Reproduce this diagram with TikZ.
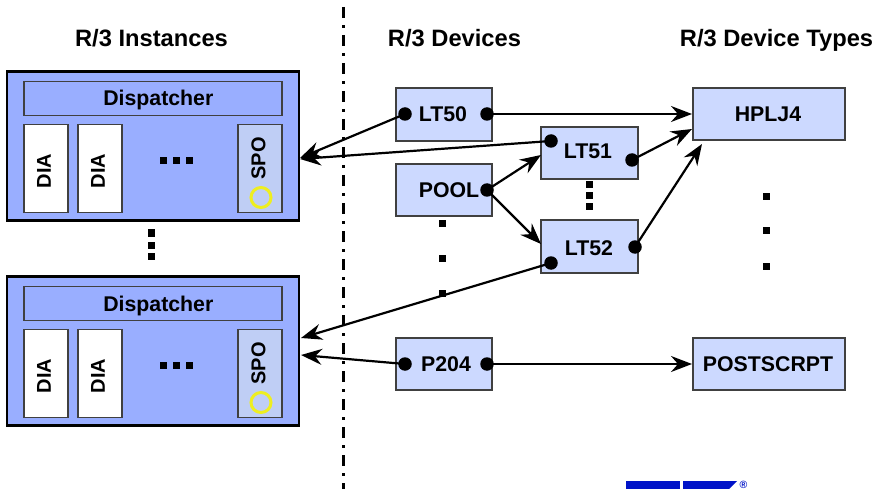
\documentclass[tikz,border=0pt]{standalone}
\usepackage{fontspec}
\setmainfont{Liberation Sans}
\usetikzlibrary{arrows.meta}
\definecolor{frameblue}{HTML}{99AEFF}
\definecolor{devblue}{HTML}{CCD9FF}
\definecolor{spoblue}{HTML}{BFCEF5}
\definecolor{logoblue}{HTML}{0013C8}
\definecolor{ringyellow}{HTML}{EEEE20}
\tikzset{
  x=1pt,y=-1pt,
  heading/.style={font=\fontsize{23.7}{26}\selectfont\bfseries,inner sep=0pt,anchor=base},
  frame/.style={draw=black,line width=2.8pt,fill=frameblue},
  disp/.style={draw=black!75,line width=1.1pt,fill=frameblue},
  dia/.style={draw=black!75,line width=1.1pt,fill=white},
  spobox/.style={draw=black!75,line width=1.1pt,fill=spoblue},
  devbox/.style={draw=black!75,line width=1.1pt,fill=devblue},
  boxlabel/.style={font=\fontsize{21.3}{24}\selectfont\bfseries,inner sep=0pt,anchor=base},
  vlabel/.style={font=\fontsize{20}{24}\selectfont\bfseries,inner sep=0pt,rotate=90},
  pin/.style={circle,fill=black,inner sep=0pt,minimum size=13.5pt},
  link/.style={line width=2.2pt,-{Stealth[length=21pt,width=16pt,inset=7pt]}},
  sq/.style={fill=black,inner sep=0pt,minimum size=7pt},
  ring/.style={draw=ringyellow,line width=3pt,circle,inner sep=0pt,minimum size=20pt},
}
\begin{document}
\begin{tikzpicture}
\useasboundingbox (0,0) rectangle (886,489);
% divider
\draw[line width=3pt,dash pattern=on 11pt off 7pt on 3pt off 7pt] (343.3,7) -- (343.3,489);
% headings
\node[heading] (h1) at (151.5,47) {R/3 Instances};
\node[heading] (h2) at (454.5,47) {R/3 Devices};
\node[heading] (h3) at (776.5,47) {R/3 Device Types};
% instance frames
\foreach \n/\t in {a/71.5,b/276.5}{
  \draw[frame] (7,\t) rectangle (299,\t+149);
  \draw[disp] (24,\t+10) rectangle (282,\t+44);
  \node[boxlabel] (disp\n) at (158.3,\t+34.5) {Dispatcher};
  \draw[dia] (24,\t+53) rectangle (68,\t+141);
  \node[vlabel] (dia\n1) at (44,\t+99.5) {DIA};
  \draw[dia] (78,\t+53) rectangle (122,\t+141);
  \node[vlabel] (dia\n2) at (98,\t+99.5) {DIA};
  \draw[spobox] (238,\t+53) rectangle (282,\t+141);
  \node[vlabel] (spo\n) at (258.5,\t+87) {SPO};
  \node[ring] (ring\n) at (261,\t+126) {};
  \foreach \i/\x in {1/163,2/176,3/189}
    \node[sq] (dots\n\i) at (\x,\t+89) {};
}
\foreach \i/\y in {1/233,2/245,3/256}
  \node[sq] (fdots\i) at (151,\y) {};
% device boxes
\draw[devbox] (396,88) rectangle (492,141);
\draw[devbox] (541,127) rectangle (638,179);
\draw[devbox] (396,164) rectangle (492,216);
\draw[devbox] (541,220) rectangle (638,273);
\draw[devbox] (396,338) rectangle (492,390);
\draw[devbox] (693,88) rectangle (845,140);
\draw[devbox] (693,338) rectangle (845,390);
\node[boxlabel] (lt50) at (443,121.5) {LT50};
\node[boxlabel] (lt51) at (588,158.5) {LT51};
\node[boxlabel] (pool) at (449,197.5) {POOL};
\node[boxlabel] (lt52) at (589,255) {LT52};
\node[boxlabel] (p204) at (446,371.5) {P204};
\node[boxlabel] (hplj) at (768,121.5) {HPLJ4};
\node[boxlabel] (post) at (768,371.5) {POSTSCRPT};
% dotted runs
\foreach \i/\y in {1/224,2/258,3/293}
  \node[sq] (ddots\i) at (442,\y) {};
\foreach \i/\y in {1/185,2/196,3/207}
  \node[sq] (ldots\i) at (589,\y) {};
\foreach \i/\y in {1/197,2/231,3/266}
  \node[sq] (tdots\i) at (766,\y) {};
% arrow targets
\coordinate (spoa1) at (300,158);
\coordinate (spoa2) at (300,159);
\coordinate (spob1) at (301,338);
\coordinate (spob2) at (301,355);
\coordinate (hp1) at (692,114);
\coordinate (hp2) at (692,129);
\coordinate (hp3) at (702,144);
\coordinate (ps1) at (692,364);
\coordinate (l51in) at (541,155);
\coordinate (l52in) at (541,244);
% pins
\node[pin] (lt50l) at (405,114) {};
\node[pin] (lt50r) at (487,114) {};
\node[pin] (lt51l) at (551,141) {};
\node[pin] (lt51r) at (632,160) {};
\node[pin] (poolr) at (487,190) {};
\node[pin] (lt52l) at (551,263) {};
\node[pin] (lt52r) at (635,247) {};
\node[pin] (p204l) at (405,364) {};
\node[pin] (p204r) at (487,364) {};
% connectors
\draw[link] (lt50l.center) -- (spoa1);
\draw[link] (lt51l.center) -- (spoa2);
\draw[link] (lt52l.center) -- (spob1);
\draw[link] (p204l.center) -- (spob2);
\draw[link] (lt50r.center) -- (hp1);
\draw[link] (lt51r.center) -- (hp2);
\draw[link] (lt52r.center) -- (hp3);
\draw[link] (p204r.center) -- (ps1);
\draw[link] (poolr.center) -- (l51in);
\draw[link] (poolr.center) -- (l52in);
% logo
\fill[logoblue] (626,481) rectangle (680,489);
\fill[logoblue] (683,481) -- (737,481) -- (729,489) -- (683,489) -- cycle;
\node[font=\fontsize{10.5}{11}\selectfont\bfseries,text=logoblue,inner sep=0pt] (reg) at (743.5,484.5) {®};
\end{tikzpicture}
\end{document}
